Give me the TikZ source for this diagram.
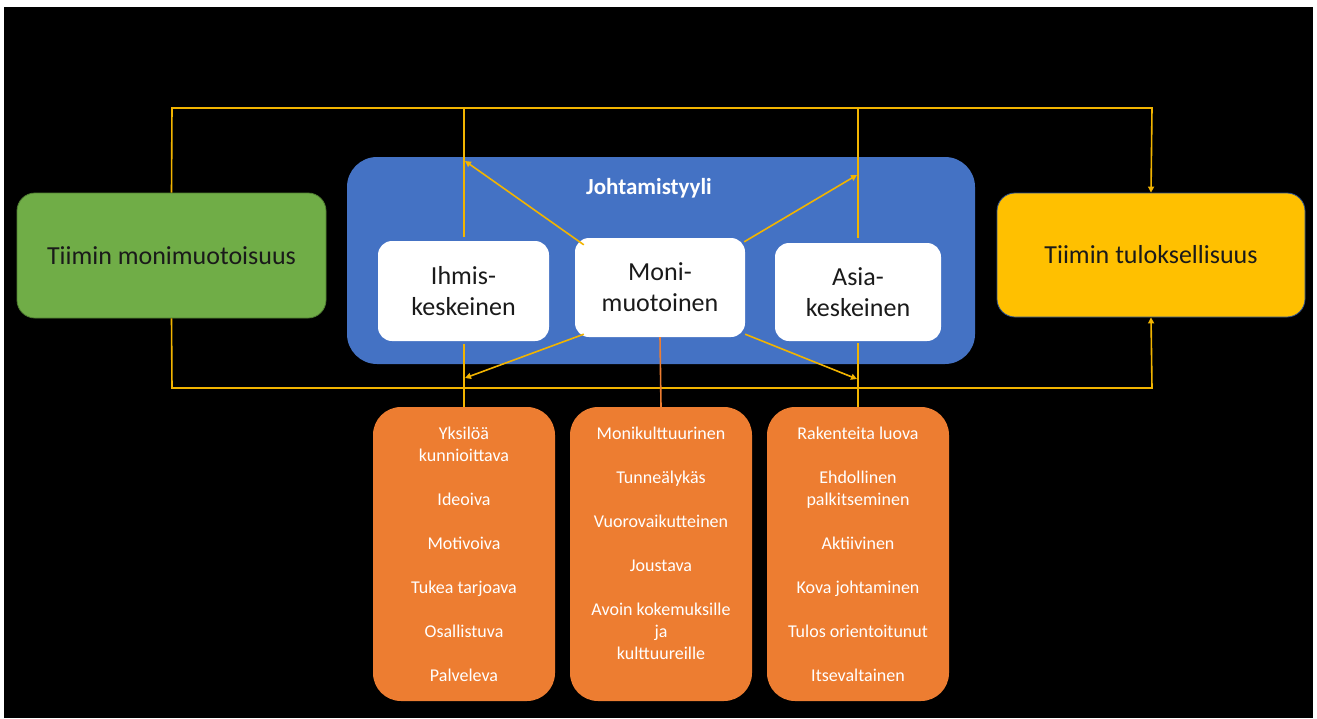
\documentclass[tikz,border=0pt]{standalone}
\usepackage{fontspec}
\setmainfont{Carlito}
\usetikzlibrary{arrows.meta}
\definecolor{cgreen}{HTML}{70AD47}
\definecolor{cgreenD}{HTML}{507E32}
\definecolor{cblue}{HTML}{4472C4}
\definecolor{cyellow}{HTML}{FFC000}
\definecolor{cyellowD}{HTML}{2F528F}
\definecolor{corange}{HTML}{ED7D31}
\definecolor{cline}{HTML}{F2B400}
\definecolor{ctext}{HTML}{1A1A1A}
\tikzset{
  bigbox/.style={rounded corners=18pt, inner sep=0pt, text=ctext, align=center,
    font=\fontsize{26}{31}\selectfont},
  whitebox/.style={rounded corners=14pt, fill=white, inner sep=0pt, text=ctext, align=center,
    font=\fontsize{26}{31}\selectfont},
  orangebox/.style={rounded corners=28pt, fill=corange, inner sep=0pt,
    minimum width=182pt, minimum height=294pt},
  listtext/.style={text=white, align=center, inner sep=0pt, font=\fontsize{18}{22}\selectfont},
  link/.style={draw=cline, line width=1.6pt},
  arr/.style={link, -{Triangle[width=6pt,length=6pt]}},
}
\begin{document}
\begin{tikzpicture}[x=1pt,y=-1pt]
\fill[white] (0,0) rectangle (1317,718);
\useasboundingbox (0,0) rectangle (1317,718);
\fill[black] (4,7) rectangle (1313,718);

% main boxes
\node[bigbox, fill=cgreen, draw=cgreenD, line width=0.8pt, minimum width=309pt, minimum height=125pt] (green) at (171.5,255.5) {Tiimin monimuotoisuus};
\node[bigbox, fill=cyellow, draw=cyellowD, line width=0.8pt, minimum width=308pt, minimum height=124pt] (yellow) at (1151,255) {Tiimin tuloksellisuus};
\node[rounded corners=30pt, fill=cblue, inner sep=0pt, minimum width=628pt, minimum height=207pt] (blue) at (661,260.5) {};
\node[text=white, inner sep=0pt, font=\fontsize{23}{27}\selectfont\bfseries] (title) at (649,188) {Johtamistyyli};

\node[whitebox, minimum width=171pt, minimum height=100pt] (ihmis) at (463.5,291) {Ihmis-\\keskeinen};
\node[whitebox, minimum width=170pt, minimum height=99pt] (moni) at (660,287.5) {Moni-\\muotoinen};
\node[whitebox, minimum width=166pt, minimum height=98pt] (asia) at (858,292) {Asia-\\keskeinen};

% orange boxes
\node[orangebox] (oleft) at (464,554) {};
\node[orangebox] (omid) at (661,554) {};
\node[orangebox] (oright) at (858,554) {};
\node[listtext] (tleft) at (464,554) {Yksilöä\\kunnioittava\\[22pt]Ideoiva\\[22pt]Motivoiva\\[22pt]Tukea tarjoava\\[22pt]Osallistuva\\[22pt]Palveleva};
\node[listtext] (tmid) at (661,543) {Monikulttuurinen\\[22pt]Tunneälykäs\\[22pt]Vuorovaikutteinen\\[22pt]Joustava\\[22pt]Avoin kokemuksille\\ja\\kulttuureille};
\node[listtext] (tright) at (858,554) {Rakenteita luova\\[22pt]Ehdollinen\\palkitseminen\\[22pt]Aktiivinen\\[22pt]Kova johtaminen\\[22pt]Tulos orientoitunut\\[22pt]Itsevaltainen};

% coordinates
\coordinate (tl) at (172,108);
\coordinate (tr) at (1152,108);
\coordinate (bl) at (172,388);
\coordinate (br) at (1152,388);
\coordinate (ihtop) at (464,108);
\coordinate (astop) at (858,108);
\coordinate (ihup) at (464,237);
\coordinate (asup) at (858,238);
\coordinate (ihdn) at (464,344);
\coordinate (asdn) at (858,343);
\coordinate (pa) at (465,161);
\coordinate (pb) at (857,175);
\coordinate (pc) at (465,378);
\coordinate (pd) at (857,379);

% outer frame lines
\draw[arr] (green.north) -- (tl) -- (tr) -- (yellow.north);
\draw[arr] (green.south) -- (bl) -- (br) -- (yellow.south);

% verticals
\draw[link] (ihtop) -- (ihup);
\draw[link] (astop) -- (asup);
\draw[link] (ihdn) -- (oleft.north);
\draw[link] (asdn) -- (oright.north);
\draw[draw=corange, line width=1.6pt] (moni.south) -- (omid.north);

% diagonals
\draw[arr] ([shift={(9,7)}]moni.north west) -- (pa);
\draw[arr] ([shift={(-1,4)}]moni.north east) -- (pb);
\draw[arr] ([shift={(9,-3)}]moni.south west) -- (pc);
\draw[arr] ([shift={(0,-3)}]moni.south east) -- (pd);
\end{tikzpicture}
\end{document}
